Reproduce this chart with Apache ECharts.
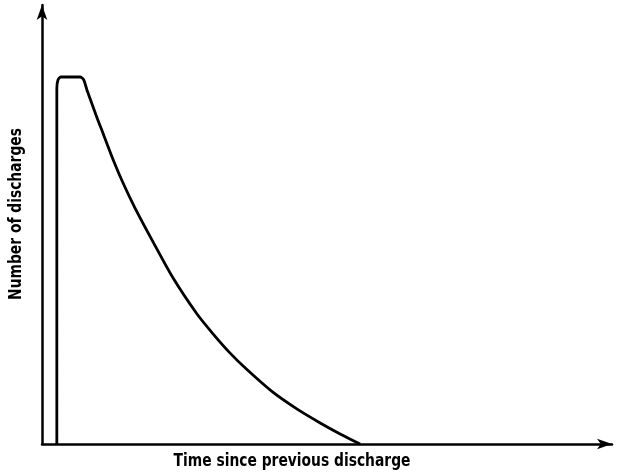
<!DOCTYPE html>
<html>
<head>
<meta charset="utf-8">
<script src="https://cdn.jsdelivr.net/npm/echarts@6/dist/echarts.min.js"></script>
<style>html,body{margin:0;padding:0;background:#fff}#c{width:617px;height:476px}</style>
</head>
<body>
<div id="c"></div>
<script>
const timeValues = [2.6, 2.6, 2.8, 3.3, 6.7, 7.3, 7.9, 9.6, 10.7, 12.5, 14.2, 16.3, 19.5, 23.0, 27.2, 30.0, 33.0, 36.0, 40.5, 44.7, 48.8, 52.3, 55.8];
const countValues = [0, 81.0, 82.9, 83.6, 83.6, 83.0, 80.6, 74.5, 70.8, 64.7, 59.5, 53.8, 46.0, 37.8, 29.6, 25.1, 20.7, 16.9, 11.8, 8.0, 4.8, 2.3, 0];
const xTitle = 'Time since previous discharge';
const yTitle = 'Number of discharges';

const chart = echarts.init(document.getElementById('c'));
const axisCommon = {
  type: 'value', min: 0, max: 100,
  axisLabel: {show: false}, axisTick: {show: false}, splitLine: {show: false},
  axisLine: {show: true, symbol: ['none', 'arrow'], symbolSize: [8, 15], lineStyle: {color: '#000', width: 2.5}}
};
const titleFont = 'bold 15.4px "DejaVu Sans Condensed", "DejaVu Sans"';
chart.setOption({
  animation: false,
  backgroundColor: '#fff',
  grid: {left: 42, right: 5, top: 5, bottom: 32},
  xAxis: Object.assign({}, axisCommon),
  yAxis: Object.assign({}, axisCommon),
  series: [{
    type: 'line',
    data: timeValues.map((t, i) => [t, countValues[i]]),
    showSymbol: false,
    smooth: 0.25,
    lineStyle: {color: '#000', width: 2.8}
  }],
  graphic: [
    {type: 'text', x: 292, y: 461, scaleY: 1.2, style: {text: xTitle, align: 'center', verticalAlign: 'middle', font: titleFont, fill: '#000'}},
    {type: 'text', rotation: Math.PI / 2, x: 16, y: 214, scaleY: 1.2, style: {text: yTitle, align: 'center', verticalAlign: 'middle', font: titleFont, fill: '#000'}}
  ]
});
</script>
</body>
</html>
